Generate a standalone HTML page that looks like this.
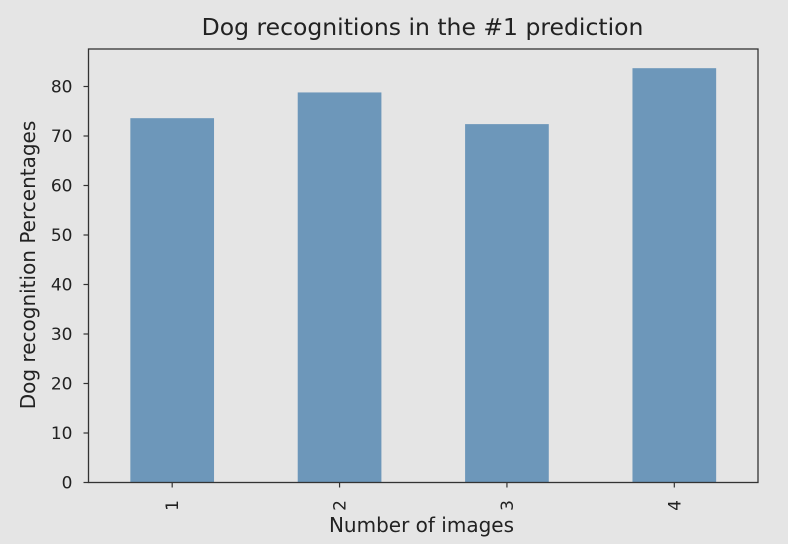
<!DOCTYPE html>
<html><head><meta charset="utf-8"><style>
html,body{margin:0;padding:0;background:#e5e5e5;}
svg{display:block;font-family:"DejaVu Sans","Liberation Sans",sans-serif;}
</style></head><body>
<svg id="chart" width="788" height="544"></svg>
<script>
const categories = ["1","2","3","4"];
const values = [73.6, 78.8, 72.4, 83.7];
const yTicks = [0,10,20,30,40,50,60,70,80];
const NS="http://www.w3.org/2000/svg";
const svg=document.getElementById('chart');
const L=88.5,R=758,T=49,B=482.5;
const pxPer=(B-86.5)/80;
function y(v){return B-v*pxPer;}
const step=(R-L)/categories.length;
function x(i){return L+step*(i+0.5);}
function mk(tag,attrs,parent){const e=document.createElementNS(NS,tag);for(const k in attrs)e.setAttribute(k,attrs[k]);(parent||svg).appendChild(e);return e;}
const bg=mk('rect',{x:L,y:T,width:R-L,height:B-T,fill:'#e5e5e5'});


categories.forEach((c,i)=>{
  const bw=step*0.5;
  const r=mk('rect',{x:x(i)-bw/2,y:y(values[i]),width:bw,height:B-y(values[i]),fill:'#6d97ba'});
  
  
  mk('line',{x1:x(i),x2:x(i),y1:B,y2:B+5,stroke:'#333','stroke-width':1.2});
  const t=mk('text',{x:0,y:0,'font-size':17,fill:'#222','text-anchor':'middle',transform:`translate(${x(i)+6} ${B+23}) rotate(-90)`});
  t.textContent=c;
  
  
});
yTicks.forEach(v=>{
  mk('line',{x1:L-5,x2:L,y1:y(v),y2:y(v),stroke:'#333','stroke-width':1.2});
  const t=mk('text',{x:L-16,y:y(v)+6,'font-size':17,fill:'#222','text-anchor':'end'});
  t.textContent=v;
  
  
});
const fr=mk('rect',{x:L,y:T,width:R-L,height:B-T,fill:'none',stroke:'#333','stroke-width':1.3});


const title=mk('text',{x:422.5,y:35,'font-size':23.5,fill:'#222','text-anchor':'middle'});
title.textContent='Dog recognitions in the #1 prediction';


const xl=mk('text',{x:421.5,y:532,'font-size':20,fill:'#222','text-anchor':'middle'});
xl.textContent='Number of images';


const yl=mk('text',{x:0,y:0,'font-size':20,fill:'#222','text-anchor':'middle',transform:`translate(35 265) rotate(-90)`});
yl.textContent='Dog recognition Percentages';


</script>
</body></html>
